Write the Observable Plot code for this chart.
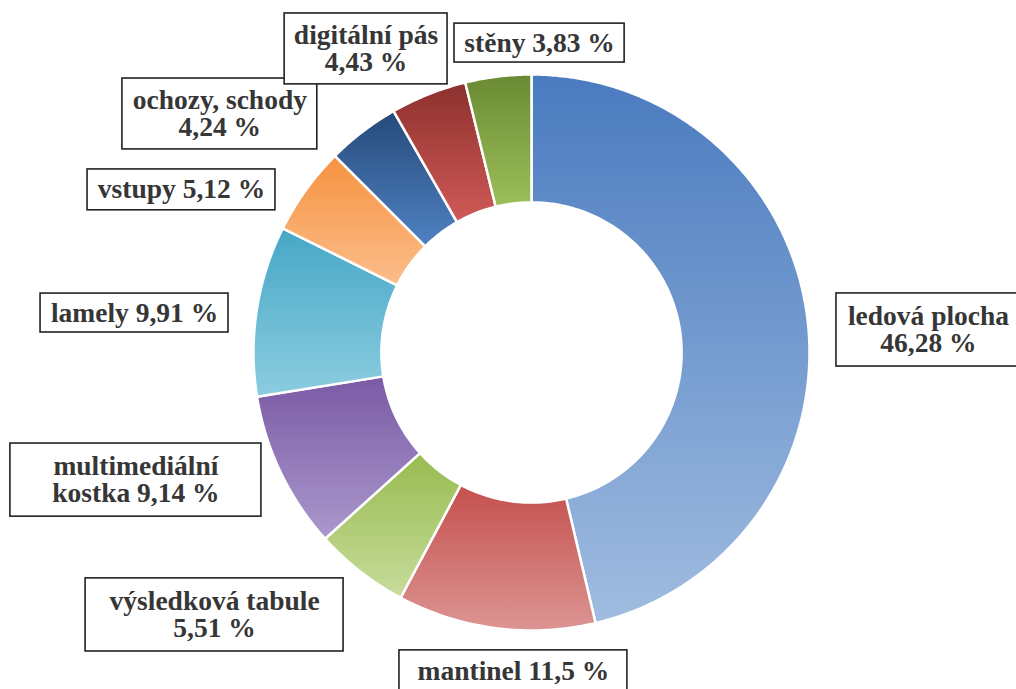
<!DOCTYPE html>
<html><head><meta charset="utf-8">
<script src="https://cdn.jsdelivr.net/npm/d3@7"></script>
<script src="https://cdn.jsdelivr.net/npm/@observablehq/plot@0.6"></script>
<style>
html,body{margin:0;padding:0;background:#fff;overflow:hidden}
#chart svg text, #chart svg tspan{font-family:"Liberation Serif","Times New Roman","Tinos","DejaVu Serif",serif !important;}
</style>
</head><body><div id="chart"></div>
<script>
// ---- data ----
const categories = ["ledová plocha", "mantinel", "výsledková tabule", "multimediální kostka", "lamely", "vstupy", "ochozy, schody", "digitální pás", "stěny"];
const values = [46.28, 11.5, 5.51, 9.14, 9.91, 5.12, 4.24, 4.43, 3.83];

// ---- styling ----
const gradTop = ["#4a7bbf", "#c4504d", "#97bb50", "#7a5aa5", "#46a7c6", "#f6923f", "#264a7a", "#8c302d", "#6a8a33"];
const gradBottom = ["#a0bce0", "#dc9593", "#c8dc9c", "#ab98cc", "#8ccde0", "#fbbe8c", "#4f82c2", "#d05a57", "#9cbf5a"];
// how each label wraps: "value" = value on second line, "inline" = one line, "name" = name broken after first word
const labelWrap = ["value", "inline", "value", "name", "inline", "inline", "value", "value", "inline"];
// label box centres and sizes in units of the outer radius
const labelX = [1.428, -0.065, -1.140, -1.423, -1.428, -1.259, -1.121, -0.595, 0.029];
const labelY = [0.081, -1.147, -0.944, -0.459, 0.142, 0.585, 0.858, 1.092, 1.113];
const boxW = [0.662, 0.820, 0.928, 0.903, 0.676, 0.676, 0.701, 0.586, 0.612];
const boxH = [0.263, 0.151, 0.263, 0.263, 0.140, 0.147, 0.255, 0.255, 0.140];
const innerRatio = 0.54;

const fmt = v => String(v).replace(".", ",") + " %";
const total = d3.sum(values);
let acc = 0;
const slices = values.map((v, i) => {
  const a0 = acc / total * 2 * Math.PI;
  acc += v;
  const a1 = acc / total * 2 * Math.PI;
  return {i, name: categories[i], a0, a1};
});
function slicePoints(s) {
  const n = Math.max(2, Math.ceil((s.a1 - s.a0) / 0.01) + 1);
  const pts = [];
  for (let k = 0; k < n; k++) {
    const a = s.a0 + (s.a1 - s.a0) * k / (n - 1);
    pts.push({name: s.name, x: Math.sin(a), y: Math.cos(a)});
  }
  for (let k = n - 1; k >= 0; k--) {
    const a = s.a0 + (s.a1 - s.a0) * k / (n - 1);
    pts.push({name: s.name, x: innerRatio * Math.sin(a), y: innerRatio * Math.cos(a)});
  }
  return pts;
}
const labels = categories.map((c, i) => {
  let t;
  if (labelWrap[i] === "value") t = c + "\n" + fmt(values[i]);
  else if (labelWrap[i] === "name") t = c.replace(" ", "\n") + " " + fmt(values[i]);
  else t = c + " " + fmt(values[i]);
  return {text: t, x: labelX[i], y: labelY[i],
    x1: labelX[i] - boxW[i] / 2, x2: labelX[i] + boxW[i] / 2,
    y1: labelY[i] - boxH[i] / 2, y2: labelY[i] + boxH[i] / 2};
});

const defs = () => {
  const d = d3.create("svg:defs");
  gradTop.forEach((c, i) => {
    const g = d.append("linearGradient").attr("id", "grad" + i)
      .attr("x1", 0).attr("y1", 0).attr("x2", 0).attr("y2", 1);
    g.append("stop").attr("offset", "0%").attr("stop-color", c);
    g.append("stop").attr("offset", "100%").attr("stop-color", gradBottom[i]);
  });
  return d.node();
};

const W = 1016, H = 689, R = 278, CX = 531, CY = 352;
const chart = Plot.plot({
  width: W, height: H,
  margin: 0,
  x: {domain: [-CX / R, (W - CX) / R], axis: null},
  y: {domain: [(CY - H) / R, CY / R], axis: null},
  style: {background: "white"},
  marks: [
    defs,
    ...slices.map(s => Plot.line(slicePoints(s), {
      x: "x", y: "y", curve: "linear-closed",
      fill: `url(#grad${s.i})`, stroke: "white", strokeWidth: 2.5
    })),
    Plot.rect(labels, {x1: "x1", x2: "x2", y1: "y1", y2: "y2", fill: "white", stroke: "#222", strokeWidth: 1.6}),
    Plot.text(labels, {
      x: "x", y: "y", text: "text",
      fontSize: 27.5, fontWeight: "bold", fontFamily: "Liberation Serif",
      fill: "#363636", lineHeight: 0.98, textAnchor: "middle", lineAnchor: "middle"
    })
  ]
});
document.getElementById("chart").appendChild(chart);
</script>
</body></html>
